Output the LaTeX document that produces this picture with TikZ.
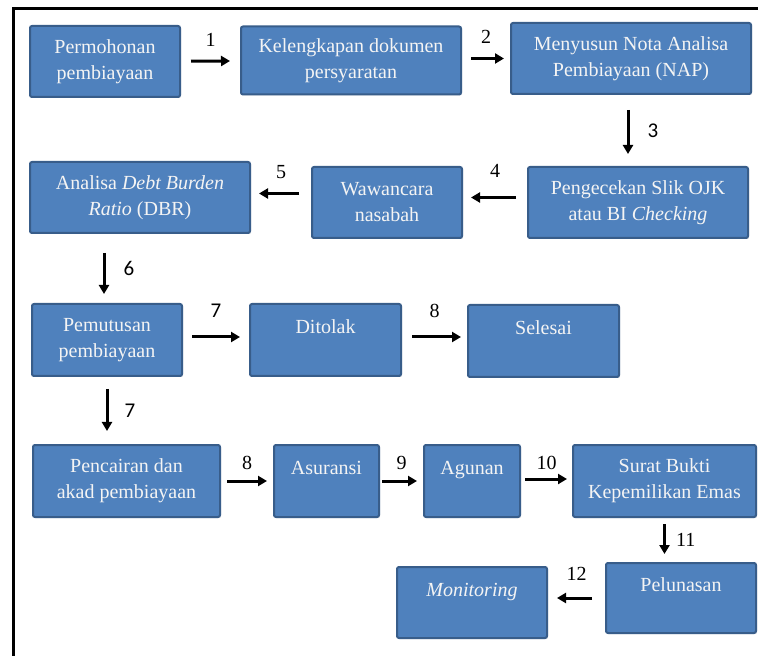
\documentclass[tikz,border=0pt]{standalone}
\usepackage{fontspec}
\setmainfont{Liberation Serif}
\newfontfamily\numfont{Carlito}
\usetikzlibrary{arrows.meta,shadows}
\definecolor{boxfill}{HTML}{4F81BD}
\definecolor{boxline}{HTML}{385D8A}
\definecolor{boxtext}{HTML}{F4F4F4}
\tikzset{
  x=0.5pt, y=-0.5pt,
  box/.style={draw=boxline, fill=boxfill, line width=1pt, rounded corners=1pt,
    text=boxtext, align=center, inner sep=0pt,
    font=\fontsize{10}{13}\selectfont,
    drop shadow={shadow xshift=0.5pt, shadow yshift=-0.5pt, opacity=0.25}},
  arr/.style={-{Triangle[length=4.5pt,width=5pt]}, line width=1.5pt},
  num/.style={font=\fontsize{10}{12}\selectfont, inner sep=0pt},
  numsans/.style={font=\numfont\fontsize{10.5}{12}\selectfont, inner sep=0pt},
}
\begin{document}
\begin{tikzpicture}
\useasboundingbox (0,0) rectangle (758,656);
% frame
\draw [line width=1.5pt] (13,656) -- (13,9) -- (758,9);
% row 1
\node [box, minimum width=75pt, minimum height=35.5pt] (perm) at (105,61.5) {Permohonan\\pembiayaan};
\node [box, minimum width=110pt, minimum height=34pt] (kel) at (351,60.5) {Kelengkapan dokumen\\persyaratan};
\node [box, minimum width=120pt, minimum height=35.5pt] (nap) at (631,58.5) {Menyusun Nota Analisa\\Pembiayaan (NAP)};
% row 2
\node [box, minimum width=110pt, minimum height=35.5pt] (slik) at (638,202.5) {Pengecekan Slik OJK\\atau BI \textit{Checking}};
\node [box, minimum width=75pt, minimum height=35.5pt] (waw) at (387,202.5) {Wawancara\\nasabah};
\node [box, minimum width=110pt, minimum height=35.5pt] (dbr) at (140,197.5) {Analisa \textit{Debt Burden}\\\textit{Ratio} (DBR)};
% row 3
\node [box, minimum width=75pt, minimum height=36pt] (pem) at (107,340) {Pemutusan\\pembiayaan};
\node [box, minimum width=75.5pt, minimum height=36pt] (tolak) at (325.5,340) {Ditolak\\~};
\node [box, minimum width=75.5pt, minimum height=36pt] (selesai) at (543.5,341) {Selesai\\~};
% row 4
\node [box, minimum width=93.5pt, minimum height=36pt] (cair) at (126.5,481) {Pencairan dan\\akad pembiayaan};
\node [box, minimum width=52.5pt, minimum height=36pt] (asur) at (326.5,481) {Asuransi\\~};
\node [box, minimum width=48pt, minimum height=36pt] (agun) at (472,481) {Agunan\\~};
\node [box, minimum width=91.5pt, minimum height=36pt] (surat) at (664.5,481) {Surat Bukti\\Kepemilikan Emas};
% row 5
\node [box, minimum width=75pt, minimum height=35pt] (pel) at (681,598) {Pelunasan\\~};
\node [box, minimum width=75pt, minimum height=35.5pt] (mon) at (472,602.5) {\textit{Monitoring}\\~};
% arrows
\draw [arr, shorten <=5pt, shorten >=5pt] (perm) -- (kel) node [num, midway, above=6.5pt] (n1) {1};
\draw [arr, shorten <=4.5pt, shorten >=3pt] (kel.east |- nap) -- (nap.west) node [num, midway, above=6.5pt] (n2) {2};
\draw [arr, shorten <=7.5pt, shorten >=6pt] ([xshift=-1.5pt]nap.south) -- ([xshift=-1.5pt]nap.south |- slik.north) node [numsans, midway, right=9pt] (n3) {3};
\draw [arr, shorten <=5.5pt, shorten >=4pt] ([yshift=2.5pt]slik.west) -- ([yshift=2.5pt]slik.west -| waw.east) node [num, midway, above=9pt] (n4) {4};
\draw [arr, shorten <=6pt, shorten >=4pt] ([yshift=2pt]waw.west |- dbr.east) -- ([yshift=2pt]dbr.east) node [num, midway, above=6.5pt] (n5) {5};
\draw [arr, shorten <=9.5pt, shorten >=4.5pt] ([xshift=-1.5pt]pem.north |- dbr.south) -- ([xshift=-1.5pt]pem.north) node [numsans, midway, right=9pt] (n6) {6};
\draw [arr, shorten <=4.5pt, shorten >=4.5pt] ([yshift=1.5pt]pem.east) -- ([yshift=1.5pt]tolak.west) node [numsans, midway, above=9pt] (n7a) {7};
\draw [arr, shorten <=5pt, shorten >=3pt] ([yshift=1.5pt]tolak.east) -- ([yshift=1.5pt]tolak.east -| selesai.west) node [num, midway, above=9pt] (n8a) {8};
\draw [arr, shorten <=6pt, shorten >=6.5pt] (pem.south) -- (pem.south |- cair.north) node [numsans, midway, right=8pt] (n7b) {7};
\draw [arr, shorten <=3pt, shorten >=3pt] (cair) -- (asur) node [num, midway, above=5pt] (n8b) {8};
\draw [arr, shorten <=1pt, shorten >=3pt] (asur) -- (agun) node [num, midway, above=5pt] (n9) {9};
\draw [arr, shorten <=2pt, shorten >=2.5pt] ([yshift=1pt]agun.east) -- ([yshift=1pt]surat.west) node [num, midway, above=4pt] (n10) {10};
\draw [arr, shorten <=3pt, shorten >=4pt] (surat.south) -- (surat.south |- pel.north) node [num, midway, right=5pt] (n11) {11};
\draw [arr, shorten <=6.5pt, shorten >=4.5pt] (pel.west) -- (pel.west -| mon.east) node [num, midway, above=8pt] (n12) {12};
\end{tikzpicture}
\end{document}
